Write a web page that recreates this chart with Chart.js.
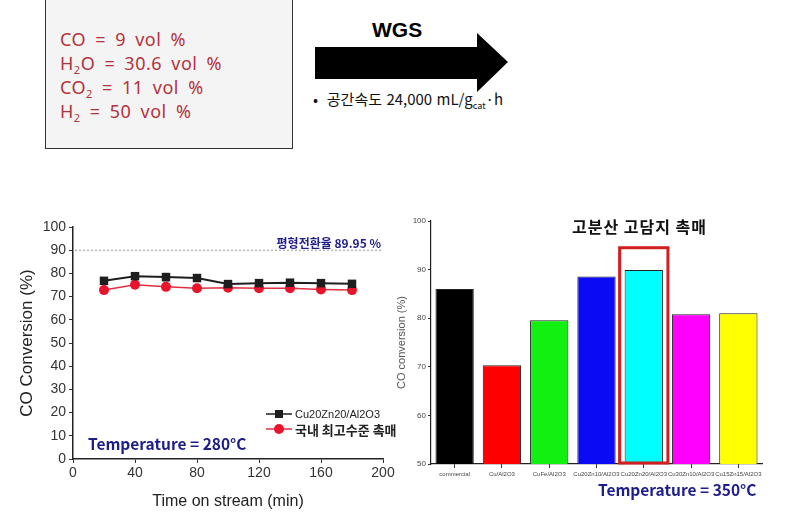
<!DOCTYPE html>
<html>
<head>
<meta charset="utf-8">
<script src="https://cdn.jsdelivr.net/npm/chart.js@4"></script>
<style>
  body { margin: 0; background: #fff; width: 797px; height: 520px; position: relative; overflow: hidden; font-family: "Noto Sans CJK KR", "Noto Sans", sans-serif; }
  .abs { position: absolute; white-space: nowrap; }
  #feedBox { left: 45px; top: -1px; width: 246px; height: 148px; border: 1.5px solid #333; background: #f4f4f4; }
  .feed { left: 60px; color: #b3323c; font-size: 18px; line-height: 20px; letter-spacing: 0.5px; word-spacing: 4px; font-family: "Noto Sans", sans-serif; }
  .feed sub { font-size: 11px; vertical-align: -4px; line-height: 0; }
  .temp { color: #1c1c8a; font-weight: bold; font-size: 15px; }
</style>
</head>
<body>
<div id="feedBox" class="abs"></div>
<div class="abs feed" style="top:29px">CO = 9 vol %</div>
<div class="abs feed" style="top:53px">H<sub>2</sub>O = 30.6 vol %</div>
<div class="abs feed" style="top:77px">CO<sub>2</sub> = 11 vol %</div>
<div class="abs feed" style="top:101px">H<sub>2</sub> = 50 vol %</div>

<svg class="abs" style="left:300px;top:20px" width="230" height="80">
  <polygon points="15,27 177,27 177,13 208,42 177,72 177,59 15,59" fill="#000"/>
</svg>
<div class="abs" style="left:372px;top:18px;font:bold 21px 'Liberation Sans',Arial,sans-serif;">WGS</div>
<div class="abs" style="left:313px;top:88px;font-size:15px;color:#111;word-spacing:1px;">•&nbsp; 공간속도 24,000 mL/g<sub style="font-size:9px">cat</sub>·h</div>

<canvas id="lineChart" class="abs" style="left:0;top:200px" width="400" height="315"></canvas>
<canvas id="barChart" class="abs" style="left:395px;top:200px" width="402" height="310"></canvas>

<div class="abs temp" style="left:88px;top:432px;font-size:15.5px">Temperature = 280°C</div>
<div class="abs temp" style="left:598px;top:478px;font-size:15.5px">Temperature = 350°C</div>
<div class="abs" style="left:572px;top:214px;font-size:16px;font-weight:bold;letter-spacing:1px;color:#111;">고분산 고담지 촉매</div>

<script>
// time on stream data (280 C)
var timeMin = [20, 40, 60, 80, 100, 120, 140, 160, 180];
var cuZnConv = [76.8, 78.8, 78.4, 78.0, 75.4, 75.8, 76.0, 75.8, 75.5];
var cuZnErr = [0.5, 0.6, 1.6, 0.8, 0.5, 1.2, 1.3, 1.2, 1.0];
var domesticConv = [72.8, 75.1, 74.2, 73.6, 73.8, 73.6, 73.6, 73.1, 72.8];
var domesticErr = [0.5, 0.8, 1.0, 0.5, 0.5, 1.0, 1.0, 0.8, 0.8];
var eqConversion = 89.95;

// catalyst comparison (350 C)
var catalysts = ['commercial', 'Cu/Al2O3', 'CuFe/Al2O3', 'Cu20Zn10/Al2O3', 'Cu20Zn20/Al2O3', 'Cu30Zn10/Al2O3', 'Cu15Zn15/Al2O3'];
var conv350 = [86.0, 70.3, 79.6, 88.6, 89.9, 80.8, 81.0];
var barColors = ['#000000', '#ff0000', '#11f011', '#0a0af5', '#00ffff', '#ff00ff', '#ffff00'];
var highlightIndex = 4;
var highlightTop = 94.5;

function toPoints(xs, ys) {
    return xs.map(function (x, i) { return { x: x, y: ys[i] }; });
}

// equilibrium line, error bars and inline legend for the line chart
var lineExtras = {
    id: 'lineExtras',
    beforeDatasetsDraw: function (chart) {
        var ctx = chart.ctx, a = chart.chartArea;
        var x = chart.scales.x, y = chart.scales.y;
        var yEq = y.getPixelForValue(eqConversion);
        ctx.save();
        ctx.strokeStyle = '#b8b8b8';
        ctx.lineWidth = 1.5;
        ctx.setLineDash([2, 2]);
        ctx.beginPath();
        ctx.moveTo(a.left + 2, yEq);
        ctx.lineTo(a.right, yEq);
        ctx.stroke();
        ctx.setLineDash([]);
        ctx.fillStyle = '#1c1c8a';
        ctx.font = 'bold 12px "Noto Sans CJK KR"';
        ctx.textAlign = 'right';
        ctx.textBaseline = 'bottom';
        ctx.fillText('평형전환율 ' + eqConversion + ' %', a.right - 2, yEq - 1);

        // error bars
        [[cuZnConv, cuZnErr, '#222'], [domesticConv, domesticErr, '#d82030']].forEach(function (s) {
            ctx.strokeStyle = s[2];
            ctx.lineWidth = 1;
            timeMin.forEach(function (t, i) {
                var px = x.getPixelForValue(t);
                var top = y.getPixelForValue(s[0][i] + s[1][i]);
                var bot = y.getPixelForValue(s[0][i] - s[1][i]);
                ctx.beginPath();
                ctx.moveTo(px, top); ctx.lineTo(px, bot);
                ctx.moveTo(px - 3, top); ctx.lineTo(px + 3, top);
                ctx.moveTo(px - 3, bot); ctx.lineTo(px + 3, bot);
                ctx.stroke();
            });
        });
        ctx.restore();
    },
    afterDraw: function (chart) {
        var ctx = chart.ctx, a = chart.chartArea;
        var lx = a.right - 117, ly = a.bottom - 45;
        ctx.save();
        chart.data.datasets.forEach(function (ds, i) {
            var yy = ly + i * 15;
            ctx.strokeStyle = ds.borderColor;
            ctx.lineWidth = 1.5;
            ctx.beginPath();
            ctx.moveTo(lx, yy); ctx.lineTo(lx + 26, yy);
            ctx.stroke();
            ctx.fillStyle = ds.pointBackgroundColor;
            ctx.beginPath();
            if (ds.pointStyle === 'rect') ctx.rect(lx + 9, yy - 4, 8, 8);
            else ctx.arc(lx + 13, yy, 5, 0, Math.PI * 2);
            ctx.fill();
            ctx.fillStyle = '#222';
            ctx.textBaseline = 'middle';
            ctx.font = i === 0 ? '11px "Liberation Sans"' : 'bold 13px "Noto Sans CJK KR"';
            ctx.fillText(ds.label, lx + 29, yy + 1);
        });
        ctx.restore();
    }
};

new Chart(document.getElementById('lineChart').getContext('2d'), {
    type: 'line',
    data: {
        datasets: [{
            label: 'Cu20Zn20/Al2O3',
            data: toPoints(timeMin, cuZnConv),
            borderColor: '#1e1e1e',
            borderWidth: 2,
            pointStyle: 'rect',
            pointRadius: 6,
            pointBackgroundColor: '#1e1e1e',
            pointBorderWidth: 0
        }, {
            label: '국내 최고수준 촉매',
            data: toPoints(timeMin, domesticConv),
            borderColor: '#e03040',
            borderWidth: 1.5,
            pointStyle: 'circle',
            pointRadius: 5,
            pointBackgroundColor: '#e8142c',
            pointBorderWidth: 0
        }]
    },
    options: {
        responsive: false,
        animation: false,
        layout: { padding: { top: 27, right: 17, left: 0, bottom: 0 } },
        plugins: { legend: { display: false }, tooltip: { enabled: false } },
        scales: {
            x: {
                type: 'linear',
                min: 0, max: 200,
                afterFit: function (s) { s.height = 56; },
                ticks: { stepSize: 40, color: '#333', font: { size: 14, family: 'Liberation Sans' }, padding: 2 },
                grid: { drawOnChartArea: false, tickLength: 4, color: '#333' },
                border: { color: '#222', width: 1.5 },
                title: { display: true, text: 'Time on stream (min)', color: '#222', font: { size: 16, family: 'Liberation Sans' }, padding: { top: 2 } }
            },
            y: {
                min: 0, max: 100,
                afterFit: function (s) { s.width = 73; },
                ticks: { stepSize: 10, color: '#333', font: { size: 14, family: 'Liberation Sans' }, padding: 3 },
                grid: { drawOnChartArea: false, tickLength: 4, color: '#333' },
                border: { color: '#222', width: 1.5 },
                title: { display: true, text: 'CO Conversion (%)', color: '#222', font: { size: 17, family: 'Liberation Sans' }, padding: { top: 17, bottom: 0 } }
            }
        }
    },
    plugins: [lineExtras]
});

// red box around the best catalyst
var highlightBox = {
    id: 'highlightBox',
    afterDatasetsDraw: function (chart) {
        var ctx = chart.ctx;
        var bar = chart.getDatasetMeta(0).data[highlightIndex];
        var y = chart.scales.y;
        var half = bar.width / 2 + 5;
        var top = y.getPixelForValue(highlightTop);
        var bot = y.getPixelForValue(50) - 1;
        ctx.save();
        ctx.strokeStyle = '#d21e1e';
        ctx.lineWidth = 3;
        ctx.strokeRect(bar.x - half, top, half * 2, bot - top);
        ctx.restore();
    }
};

new Chart(document.getElementById('barChart').getContext('2d'), {
    type: 'bar',
    data: {
        labels: catalysts,
        datasets: [{
            data: conv350,
            backgroundColor: barColors,
            borderColor: '#222',
            borderWidth: 1,
            borderSkipped: false,
            categoryPercentage: 1,
            barPercentage: 0.81
        }]
    },
    options: {
        responsive: false,
        animation: false,
        layout: { padding: { top: 21, right: 35, left: 0, bottom: 0 } },
        plugins: { legend: { display: false }, tooltip: { enabled: false } },
        scales: {
            x: {
                afterFit: function (s) { s.height = 46; },
                ticks: { color: '#444', font: { size: 6, family: 'Liberation Sans' }, maxRotation: 0, autoSkip: false, padding: 3 },
                grid: { drawOnChartArea: false, offset: false, tickLength: 4, color: '#333' },
                border: { color: '#222', width: 1.2 }
            },
            y: {
                min: 50, max: 100,
                afterFit: function (s) { s.width = 36; },
                ticks: { stepSize: 10, color: '#444', font: { size: 8, family: 'Liberation Sans' }, padding: 2 },
                grid: { drawOnChartArea: false, tickLength: 3, color: '#333' },
                border: { color: '#222', width: 1.2 },
                title: { display: true, text: 'CO conversion (%)', color: '#555', font: { size: 11, family: 'Liberation Sans' }, padding: 0 }
            }
        }
    },
    plugins: [highlightBox]
});
</script>
</body>
</html>
